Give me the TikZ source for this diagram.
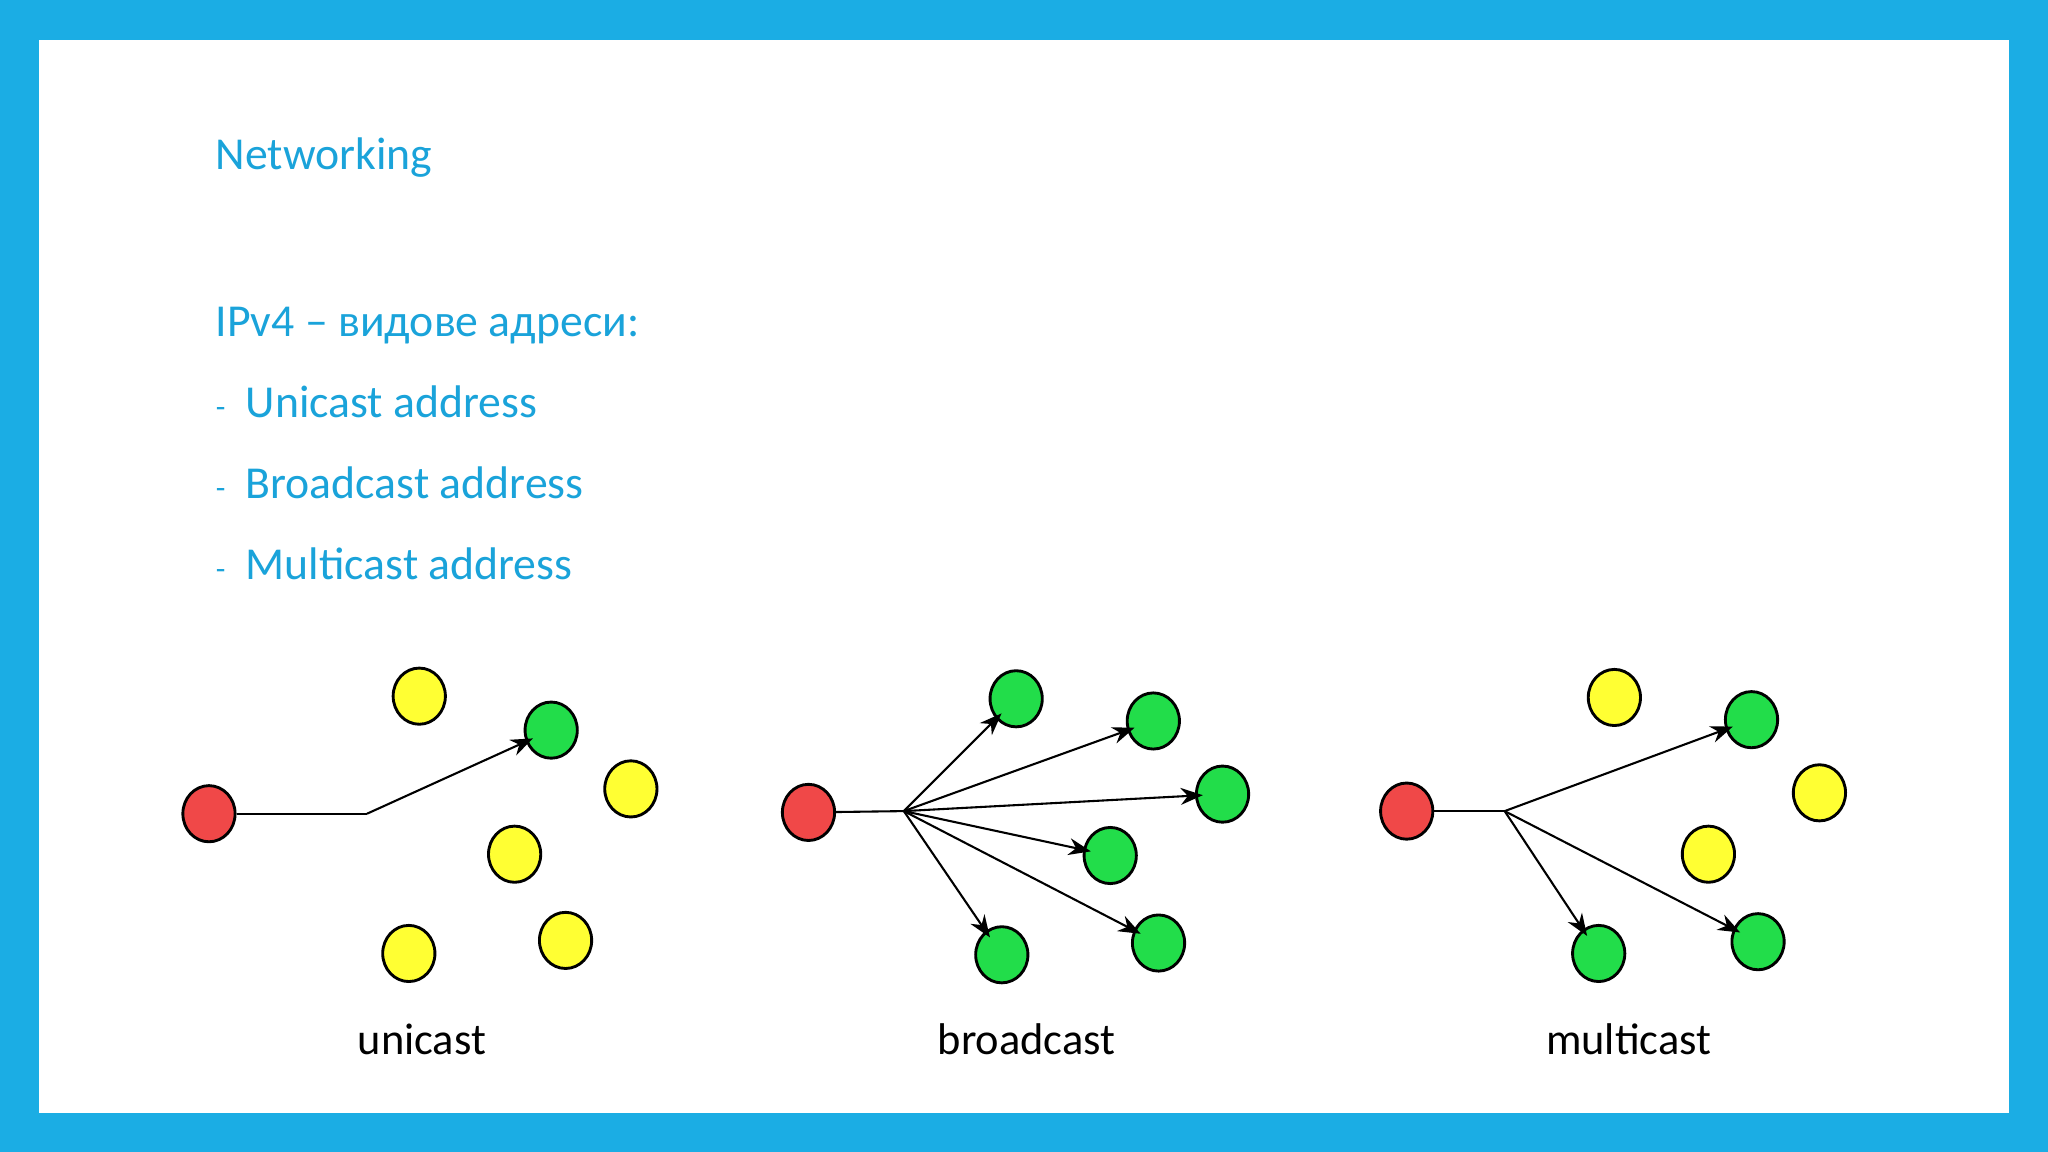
\documentclass[tikz,border=0pt]{standalone}
\usepackage{fontspec}
\setmainfont{Carlito}
\usetikzlibrary{shapes.geometric,arrows.meta}
\definecolor{frameblue}{HTML}{1BADE4}
\definecolor{txtblue}{HTML}{1AA3DA}
\definecolor{nred}{HTML}{F04848}
\definecolor{nyel}{HTML}{FFFF33}
\definecolor{ngrn}{HTML}{22DD4A}
\begin{document}
\begin{tikzpicture}[x=1pt,y=-1pt,
  dot/.style={ellipse,draw=black,line width=2.2pt,minimum width=40pt,minimum height=43pt,inner sep=0pt},
  rdot/.style={dot,fill=nred},ydot/.style={dot,fill=nyel},gdot/.style={dot,fill=ngrn},
  link/.style={line width=1.6pt},
  arr/.style={link,-{Stealth[length=17pt,width=13pt]},shorten >=-6pt},
  lbl/.style={font=\fontsize{34}{40}\selectfont,anchor=base},
  ttl/.style={font=\fontsize{35}{42}\selectfont,text=txtblue,anchor=base west,inner sep=0pt}]
\useasboundingbox (0,0) rectangle (1568,882);
\fill[frameblue] (0,0) rectangle (1568,882);
\fill[white] (30,31) rectangle (1538,852);
\node[ttl] (t) at (165,130) {Networking};
\node[ttl] (h) at (165,258) {IPv4 – видове адреси:};
\node[ttl,font=\fontsize{24}{30}\selectfont] (d1) at (165,320) {-};
\node[ttl] (i1) at (188,320) {Unicast address};
\node[ttl,font=\fontsize{24}{30}\selectfont] (d2) at (165,382) {-};
\node[ttl] (i2) at (188,382) {Broadcast address};
\node[ttl,font=\fontsize{24}{30}\selectfont] (d3) at (165,444) {-};
\node[ttl] (i3) at (188,444) {Multicast address};
% unicast
\node[rdot] (ur) at (160,623) {};
\node[ydot] (uy1) at (321,533) {};
\node[ydot] (uy2) at (483,604) {};
\node[ydot] (uy3) at (394,654) {};
\node[ydot] (uy4) at (313,730) {};
\node[ydot] (uy5) at (433,720) {};
\node[gdot] (ug) at (422,559) {};
\coordinate (uh) at (281,623);
\draw[link] (ur) -- (uh);
\draw[arr] (uh) -- (ug);
\node[lbl] (ul) at (323,807) {unicast};
% broadcast
\node[rdot] (br) at (619,622) {};
\coordinate (bh) at (692,621);
\node[gdot] (bg1) at (778,535) {};
\node[gdot] (bg2) at (883,552) {};
\node[gdot] (bg3) at (936,608) {};
\node[gdot] (bg4) at (850,655) {};
\node[gdot] (bg5) at (767,731) {};
\node[gdot] (bg6) at (887,722) {};
\draw[link] (br) -- (bh);
\foreach \n in {bg1,bg2,bg3,bg4,bg5,bg6} \draw[arr] (bh) -- (\n);
\node[lbl] (bl) at (786,807) {broadcast};
% multicast
\node[rdot] (mr) at (1077,621) {};
\coordinate (mh) at (1152,621);
\node[ydot] (my1) at (1236,534) {};
\node[ydot] (my2) at (1393,607) {};
\node[ydot] (my3) at (1308,654) {};
\node[gdot] (mg1) at (1341,551) {};
\node[gdot] (mg2) at (1224,730) {};
\node[gdot] (mg3) at (1346,721) {};
\draw[link] (mr) -- (mh);
\foreach \n in {mg1,mg2,mg3} \draw[arr] (mh) -- (\n);
\node[lbl] (ml) at (1247,807) {multicast};
\end{tikzpicture}
\end{document}
